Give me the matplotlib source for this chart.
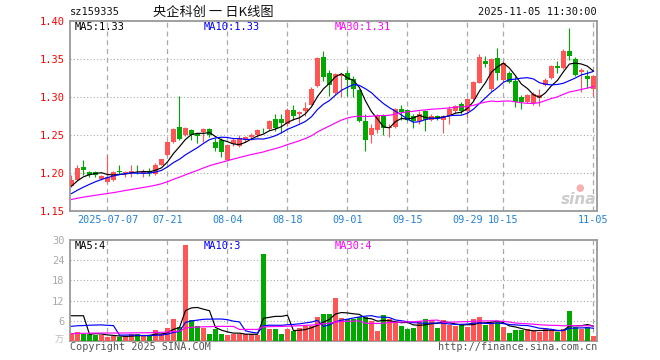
import numpy as np
import matplotlib
matplotlib.use('Agg')
import matplotlib.pyplot as plt

# daily OHLC (index 0 = first candle, last = 2025-11-05)
open_ = [1.183, 1.191, 1.208, 1.201, 1.201, 1.192, 1.188, 1.191, 1.203, 1.200,
         1.200, 1.203, 1.200, 1.203, 1.199, 1.211, 1.224, 1.241, 1.261, 1.250,
         1.257, 1.251, 1.254, 1.258, 1.241, 1.244, 1.217, 1.238, 1.236, 1.243,
         1.247, 1.250, 1.257, 1.258, 1.271, 1.271, 1.264, 1.283, 1.277, 1.281,
         1.290, 1.314, 1.353, 1.331, 1.305, 1.327, 1.332, 1.324, 1.309, 1.268,
         1.250, 1.257, 1.275, 1.259, 1.261, 1.284, 1.283, 1.275, 1.268, 1.281,
         1.270, 1.275, 1.270, 1.275, 1.282, 1.291, 1.281, 1.297, 1.319, 1.348,
         1.310, 1.351, 1.323, 1.331, 1.321, 1.300, 1.293, 1.292, 1.299, 1.316,
         1.325, 1.341, 1.338, 1.361, 1.350, 1.333, 1.328, 1.310]
high = [1.197, 1.210, 1.217, 1.202, 1.202, 1.198, 1.224, 1.202, 1.210, 1.202,
        1.210, 1.210, 1.205, 1.206, 1.213, 1.219, 1.242, 1.259, 1.301, 1.261,
        1.258, 1.252, 1.259, 1.259, 1.246, 1.246, 1.238, 1.246, 1.250, 1.249,
        1.253, 1.258, 1.259, 1.270, 1.278, 1.277, 1.285, 1.290, 1.281, 1.294,
        1.313, 1.353, 1.360, 1.336, 1.332, 1.331, 1.335, 1.327, 1.311, 1.277,
        1.264, 1.277, 1.277, 1.264, 1.286, 1.289, 1.284, 1.277, 1.281, 1.283,
        1.277, 1.276, 1.276, 1.288, 1.290, 1.294, 1.299, 1.321, 1.356, 1.354,
        1.351, 1.364, 1.347, 1.334, 1.327, 1.303, 1.304, 1.307, 1.310, 1.325,
        1.342, 1.347, 1.363, 1.391, 1.353, 1.338, 1.336, 1.329]
low = [1.181, 1.190, 1.198, 1.195, 1.195, 1.191, 1.187, 1.190, 1.199, 1.195,
       1.195, 1.199, 1.195, 1.196, 1.198, 1.210, 1.223, 1.240, 1.243, 1.249,
       1.243, 1.240, 1.241, 1.247, 1.229, 1.221, 1.216, 1.236, 1.234, 1.241,
       1.244, 1.248, 1.252, 1.257, 1.255, 1.253, 1.262, 1.270, 1.266, 1.275,
       1.289, 1.313, 1.321, 1.301, 1.303, 1.300, 1.301, 1.300, 1.267, 1.229,
       1.240, 1.253, 1.250, 1.247, 1.259, 1.270, 1.268, 1.259, 1.265, 1.255,
       1.268, 1.270, 1.253, 1.264, 1.279, 1.278, 1.272, 1.296, 1.318, 1.339,
       1.308, 1.323, 1.320, 1.318, 1.287, 1.284, 1.292, 1.289, 1.288, 1.315,
       1.324, 1.332, 1.337, 1.349, 1.328, 1.307, 1.312, 1.301]
close = [1.191, 1.207, 1.204, 1.198, 1.197, 1.196, 1.195, 1.201, 1.201, 1.201,
         1.202, 1.202, 1.203, 1.200, 1.211, 1.218, 1.241, 1.258, 1.245, 1.259,
         1.250, 1.249, 1.258, 1.250, 1.233, 1.228, 1.237, 1.243, 1.246, 1.248,
         1.250, 1.256, 1.256, 1.268, 1.259, 1.266, 1.283, 1.275, 1.280, 1.286,
         1.311, 1.351, 1.326, 1.316, 1.330, 1.330, 1.323, 1.311, 1.268, 1.243,
         1.259, 1.275, 1.259, 1.261, 1.284, 1.280, 1.270, 1.268, 1.277, 1.270,
         1.275, 1.272, 1.275, 1.284, 1.288, 1.281, 1.297, 1.320, 1.353, 1.343,
         1.350, 1.332, 1.345, 1.320, 1.294, 1.294, 1.303, 1.304, 1.303, 1.323,
         1.341, 1.338, 1.361, 1.354, 1.329, 1.335, 1.324, 1.328]
# volume in 万
vol = [2.2, 2.6, 2.1, 2.1, 1.9, 1.7, 1.2, 1.4, 1.2, 1.4,
       2.0, 2.0, 1.4, 1.6, 3.2, 2.2, 3.8, 6.5, 4.2, 28.5,
       6.2, 4.4, 3.9, 2.0, 3.6, 2.2, 1.8, 2.1, 2.0, 2.1,
       2.0, 1.8, 25.8, 3.5, 3.5, 2.0, 3.5, 3.0, 3.9, 4.6,
       4.6, 7.0, 7.9, 7.9, 12.7, 6.8, 6.4, 6.6, 7.0, 7.0,
       6.0, 2.9, 7.6, 6.6, 5.6, 4.4, 3.5, 3.8, 5.9, 6.5,
       6.1, 3.8, 6.2, 4.7, 4.4, 4.7, 4.1, 6.5, 7.0, 4.7,
       5.6, 5.7, 4.1, 2.3, 3.2, 3.2, 3.6, 2.9, 2.6, 3.6,
       3.4, 2.6, 3.7, 8.8, 4.2, 3.5, 4.2, 1.4]
# 29 sessions before the window (estimated from where the MA lines start)
prev_close = [1.158, 1.160, 1.163, 1.161, 1.159, 1.162, 1.164, 1.160, 1.158, 1.161,
              1.163, 1.162, 1.160, 1.163, 1.161, 1.163, 1.160, 1.162, 1.164, 1.162,
              1.162, 1.164, 1.161, 1.163, 1.166, 1.171, 1.178, 1.184, 1.189]
prev_vol = [1.2, 0.9, 1.1, 1.3, 1.0, 1.4, 1.2, 1.1, 0.9, 1.4,
            1.0, 1.2, 1.1, 0.9, 1.3, 1.0, 1.1, 1.2, 0.9, 1.1,
            1.1, 1.4, 1.2, 1.3, 1.2, 2.6, 2.1, 29.6, 1.0]

tick_pos = [6, 16, 26, 36, 46, 56, 66, 72, 87]
tick_labels = ['2025-07-07', '07-21', '08-04', '08-18', '09-01',
               '09-15', '09-29', '10-15', '11-05']

n = len(close)
x = np.arange(n)
all_close = np.array(prev_close + close)
all_vol = np.array(prev_vol + vol)
k = len(prev_close)


def ma(a, w):
    return np.array([a[i + k - w + 1:i + k + 1].mean() for i in range(n)])


RED = '#ff5555'
GREEN = '#00a800'
GRID = '#aaaaaa'
FRAME = '#999999'
mono = 'DejaVu Sans Mono'

fig = plt.figure(figsize=(6.6, 3.6), dpi=100)
W, H = 660.0, 360.0
ax = fig.add_axes([70 / W, 1 - 211 / H, 527 / W, 190 / H])
axv = fig.add_axes([70 / W, 1 - 341 / H, 527 / W, 101 / H])

o = np.array(open_)
c = np.array(close)
up = c >= o
cols = np.where(up, RED, GREEN)

# candles
ax.vlines(x, low, high, colors=cols, lw=0.8, zorder=3)
body_bot = np.minimum(o, c)
body_h = np.maximum(np.abs(c - o), 0.0007)
ax.bar(x, body_h, bottom=body_bot, width=0.75, color=cols, zorder=4, linewidth=0)

ax.plot(x, ma(all_close, 5), color='black', lw=0.85, zorder=5)
ax.plot(x, ma(all_close, 10), color='#0000ff', lw=0.85, zorder=5)
ax.plot(x, ma(all_close, 30), color='#ff00ff', lw=0.85, zorder=5)

ax.set_xlim(-0.25, 87.6)
ax.set_ylim(1.15, 1.40)
ax.set_yticks([1.15, 1.20, 1.25, 1.30, 1.35, 1.40])
ax.set_yticklabels(['%.2f' % v for v in [1.15, 1.20, 1.25, 1.30, 1.35, 1.40]],
                   color='#ff0000', fontsize=7.5, family=mono)
ax.set_xticks(tick_pos)
ax.set_xticklabels(tick_labels, color='#1f82d8', fontsize=7.3, family=mono)
ax.tick_params(length=0, pad=4)
ax.tick_params(axis='x', pad=3)
for v in [1.20, 1.25, 1.30, 1.35]:
    ax.axhline(v, color=GRID, lw=0.8, ls=(0, (1, 2)), zorder=1)

# volume bars
axv.bar(x, vol, width=0.75, color=cols, linewidth=0, zorder=3)
axv.plot(x, ma(all_vol, 5), color='black', lw=0.85, zorder=5)
axv.plot(x, ma(all_vol, 10), color='#0000ff', lw=0.85, zorder=5)
axv.plot(x, ma(all_vol, 30), color='#ff00ff', lw=0.85, zorder=5)
axv.set_xlim(-0.25, 87.6)
axv.set_ylim(0, 30)
axv.set_yticks([6, 12, 18, 24, 30])
axv.set_yticklabels(['6', '12', '18', '24', '30'], color='#aaaaaa',
                    fontsize=7.5, family=mono)
axv.set_xticks([])
axv.tick_params(length=0, pad=4)
for v in [6, 12, 18, 24]:
    axv.axhline(v, color=GRID, lw=0.8, ls=(0, (1, 2)), zorder=1)

for a in (ax, axv):
    for t in tick_pos:
        a.axvline(t, color=GRID, lw=0.9, ls=(0, (4, 3)), zorder=1)
    for s in a.spines.values():
        s.set_color(FRAME)
        s.set_linewidth(1.3)

# header and legends
def px(xp, yp):
    return xp / W, 1 - yp / H

fig.text(*px(70, 12), 'sz159335', family=mono, fontsize=7.5, color='#111111',
         va='center', ha='left')
fig.text(*px(213, 12), '央企科创 一 日K线图', family=['Noto Sans CJK SC', 'DejaVu Sans'],
         fontsize=9.5, color='#111111', va='center', ha='center')
fig.text(*px(597, 12), '2025-11-05 11:30:00', family=mono, fontsize=7.5,
         color='#111111', va='center', ha='right')

fig.text(*px(75, 27), 'MA5:1.33', family=mono, fontsize=7.5, color='black', va='center')
fig.text(*px(204, 27), 'MA10:1.33', family=mono, fontsize=7.5, color='#0000ff', va='center')
fig.text(*px(335, 27), 'MA30:1.31', family=mono, fontsize=7.5, color='#ff00ff', va='center')

fig.text(*px(75, 246), 'MA5:4', family=mono, fontsize=7.5, color='black', va='center')
fig.text(*px(204, 246), 'MA10:3', family=mono, fontsize=7.5, color='#0000ff', va='center')
fig.text(*px(335, 246), 'MA30:4', family=mono, fontsize=7.5, color='#ff00ff', va='center')

fig.text(*px(64, 340), '万', family=['Noto Sans CJK SC', 'DejaVu Sans'], fontsize=6.5,
         color='#bbbbbb', va='center', ha='right')
fig.text(*px(70, 347), 'Copyright 2025 SINA.COM', family=mono, fontsize=7.3,
         color='#555555', va='center', ha='left')
fig.text(*px(597, 347), 'http://finance.sina.com.cn', family=mono, fontsize=7.3,
         color='#555555', va='center', ha='right')

# sina watermark
fig.text(*px(596, 200), 'sina', fontsize=11, fontweight='bold', style='italic',
         color='#cccccc', va='center', ha='right', family='DejaVu Sans')
fig.text(*px(580, 188), '●', fontsize=7, color='#f5b0b0', va='center', ha='center')

fig.savefig('out.png', dpi=100)
